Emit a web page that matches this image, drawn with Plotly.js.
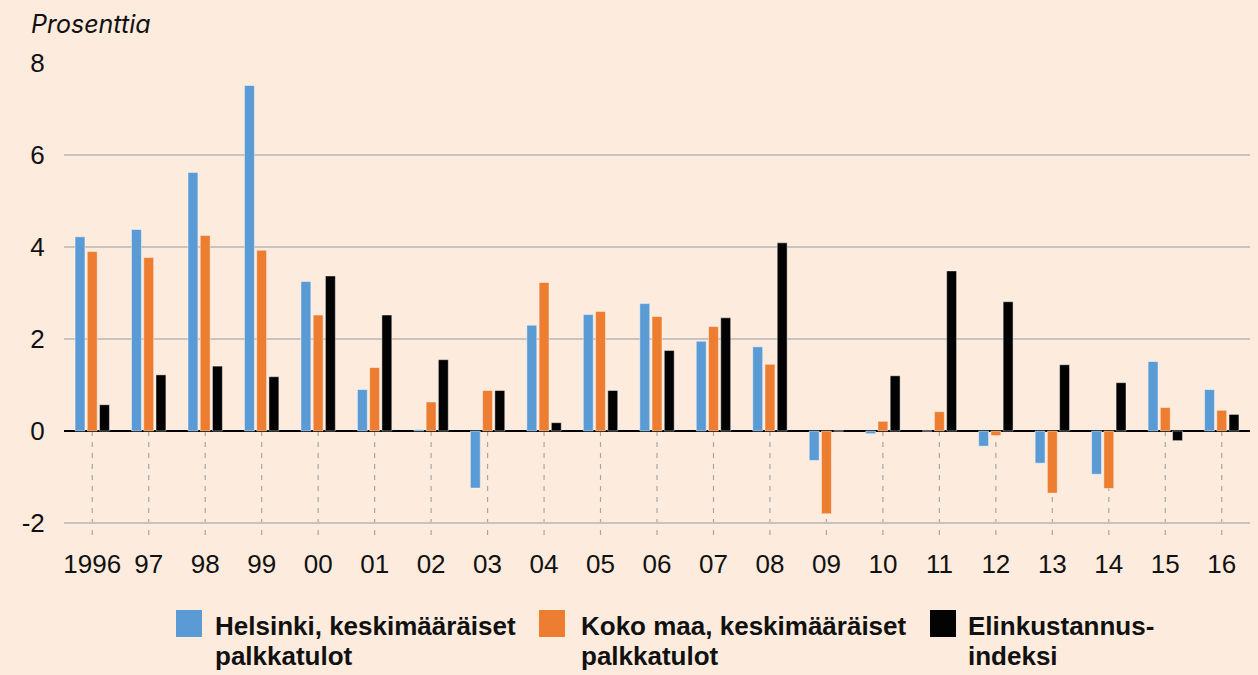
<!DOCTYPE html>
<html><head><meta charset="utf-8">
<script src="https://cdn.plot.ly/plotly-3.0.1.min.js"></script>
<style>html,body{margin:0;padding:0;background:#fdebdd}</style>
</head><body><div id="chart" style="width:1258px;height:675px"></div>
<script>
const years = ['1996','97','98','99','00','01','02','03','04','05','06','07','08','09','10','11','12','13','14','15','16'];
const helsinki = [4.22, 4.38, 5.62, 7.51, 3.25, 0.90, 0.03, -1.24, 2.30, 2.53, 2.77, 1.95, 1.83, -0.64, -0.06, 0.00, -0.33, -0.70, -0.94, 1.51, 0.90];
const kokoMaa = [3.90, 3.77, 4.25, 3.93, 2.52, 1.38, 0.63, 0.88, 3.23, 2.60, 2.49, 2.27, 1.45, -1.80, 0.21, 0.42, -0.10, -1.35, -1.25, 0.51, 0.45];
const elinkustannus = [0.57, 1.22, 1.41, 1.18, 3.37, 2.52, 1.55, 0.88, 0.18, 0.88, 1.75, 2.46, 4.09, 0.00, 1.20, 3.48, 2.81, 1.44, 1.05, -0.21, 0.36];
const seriesNames = [['Helsinki, keskimääräiset', 'palkkatulot'], ['Koko maa, keskimääräiset', 'palkkatulot'], ['Elinkustannus-', 'indeksi']];
const seriesColors = ['#5b9bd5', '#ed7d31', '#030303'];
const yTicks = [-2, 0, 2, 4, 6, 8];
const yTitle = 'Prosenttia';

const BG = '#fdebdd';
const W = 1258, H = 675;
const M = {l: 64, r: 8, t: 63, b: 135};
const PW = W - M.l - M.r, PH = H - M.t - M.b;
const yMin = -2.37, yMax = 8;
const px = x => (x - M.l) / PW;
const py = y => (H - M.b - y) / PH;

const seriesValues = [helsinki, kokoMaa, elinkustannus];
const data = seriesValues.map((vals, i) => ({
  type: 'bar', x: years, y: vals, name: seriesNames[i].join(' '),
  marker: {color: seriesColors[i], line: {color: 'rgba(255,255,255,0.55)', width: 0.8}},
  showlegend: false, hoverinfo: 'x+y'
}));

// category axis: shapes are placed by category index
const shapes = years.map((yr, i) => ({
  type: 'line', xref: 'x', yref: 'y', x0: i, x1: i, y0: 0, y1: yMin,
  line: {color: '#a8a6a4', width: 1.2, dash: '5px,6px'}, layer: 'below'
}));

const legendX = [[176, 213], [539, 579], [930, 966]];
const legFont = {family: '"Liberation Sans", Arial, sans-serif', size: 26, color: '#111', weight: 700};
const annotations = [{
  xref: 'paper', yref: 'paper', x: px(29), y: py(24), xanchor: 'left', yanchor: 'middle',
  text: yTitle, showarrow: false,
  font: {family: 'Inter, "Liberation Sans", sans-serif', size: 25, color: '#111', style: 'italic'}
}];
seriesNames.forEach((lines, i) => {
  shapes.push({type: 'rect', xref: 'paper', yref: 'paper',
    x0: px(legendX[i][0]), x1: px(legendX[i][0] + 26), y0: py(610), y1: py(637),
    fillcolor: seriesColors[i], line: {width: 0}});
  lines.forEach((ln, j) => annotations.push({
    xref: 'paper', yref: 'paper', x: px(legendX[i][1]), y: py(626 + j * 30),
    xanchor: 'left', yanchor: 'middle', text: '<b>' + ln + '</b>', showarrow: false,
    font: legFont
  }));
});

const layout = {
  width: W, height: H,
  margin: M,
  paper_bgcolor: BG, plot_bgcolor: BG,
  barmode: 'group', bargap: 0.35, bargroupgap: 0.19,
  showlegend: false,
  font: {family: '"Liberation Sans", Arial, sans-serif', size: 26, color: '#111'},
  xaxis: {
    type: 'category', showgrid: false, showline: false, zeroline: false,
    range: [-0.5, years.length - 0.5],
    ticks: 'outside', ticklen: 1, tickcolor: 'rgba(0,0,0,0)',
    tickfont: {size: 26, color: '#111'}, fixedrange: true
  },
  yaxis: {
    range: [yMin, yMax], tickvals: yTicks, ticktext: yTicks.map(String),
    showgrid: true, gridcolor: '#c9c2bd', gridwidth: 1.3,
    zeroline: true, zerolinecolor: '#000', zerolinewidth: 2.6,
    showline: false, ticks: 'outside', ticklen: 13, tickcolor: 'rgba(0,0,0,0)',
    tickfont: {size: 26, color: '#111'}, fixedrange: true
  },
  shapes: shapes,
  annotations: annotations
};
Plotly.newPlot('chart', data, layout, {displayModeBar: false, staticPlot: true});
</script></body></html>
